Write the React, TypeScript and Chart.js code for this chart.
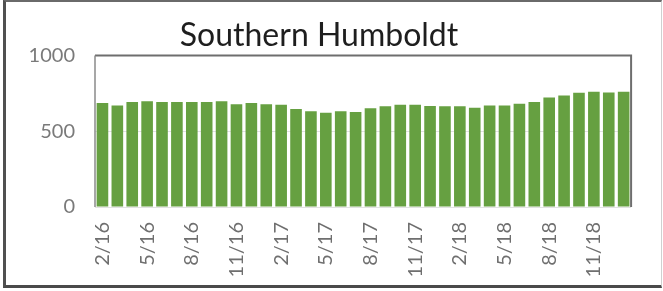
import React, { useEffect, useRef } from "react";
import { Chart, registerables } from "chart.js";

Chart.register(...registerables);

const months: string[] = [
  "2/16", "3/16", "4/16", "5/16", "6/16", "7/16", "8/16", "9/16", "10/16", "11/16", "12/16", "1/17",
  "2/17", "3/17", "4/17", "5/17", "6/17", "7/17", "8/17", "9/17", "10/17", "11/17", "12/17", "1/18",
  "2/18", "3/18", "4/18", "5/18", "6/18", "7/18", "8/18", "9/18", "10/18", "11/18", "12/18", "1/19",
];

const values: number[] = [
  686, 670, 692, 697, 692, 692, 692, 692, 697, 677, 686, 677,
  675, 646, 631, 622, 631, 626, 651, 664, 675, 675, 666, 664,
  664, 655, 670, 670, 681, 692, 723, 736, 754, 760, 756, 760,
];

const yTicks: number[] = [0, 500, 1000];
const labelEvery = 3;
const title = "Southern Humboldt";

const boxPlugin = {
  id: "plotBox",
  afterDraw(chart: any) {
    const { ctx, chartArea } = chart;
    ctx.save();
    ctx.strokeStyle = "#6e6e6e";
    ctx.lineWidth = 2;
    ctx.beginPath();
    ctx.moveTo(chartArea.left, chartArea.top);
    ctx.lineTo(chartArea.right, chartArea.top);
    ctx.lineTo(chartArea.right, chartArea.bottom);
    ctx.stroke();
    ctx.strokeStyle = "#8a8a8a";
    ctx.lineWidth = 1.5;
    ctx.beginPath();
    ctx.moveTo(chartArea.left, chartArea.top);
    ctx.lineTo(chartArea.left, chartArea.bottom);
    ctx.stroke();
    ctx.restore();
  },
};

export default function App() {
  const ref = useRef<HTMLCanvasElement | null>(null);
  useEffect(() => {
    document.body.style.margin = "0";
    const chart = new Chart(ref.current as HTMLCanvasElement, {
      type: "bar",
      data: {
        labels: months,
        datasets: [
          {
            data: values,
            backgroundColor: "#66a041",
            borderWidth: 0,
            barPercentage: 0.78,
            categoryPercentage: 1,
          },
        ],
      },
      options: {
        animation: false,
        responsive: false,
        maintainAspectRatio: false,
        layout: { padding: { left: 0, right: 25, top: 0, bottom: 0 } },
        plugins: {
          legend: { display: false },
          tooltip: { enabled: false },
          title: {
            display: true,
            text: title,
            color: "#1e1e1e",
            font: { family: "Lato", size: 32, weight: "normal", lineHeight: 1.2 },
            padding: { top: 16, bottom: 1 },
          },
        },
        scales: {
          x: {
            grid: { display: false, drawTicks: false },
            border: { display: false },
            ticks: {
              autoSkip: false,
              maxRotation: 90,
              minRotation: 90,
              padding: 15,
              color: "#6f6f6f",
              font: { family: "Lato", size: 20 },
              callback: (_v: any, i: number) => (i % labelEvery === 0 ? months[i] : ""),
            },
            afterFit: (s: any) => {
              s.height = 84;
            },
          },
          y: {
            min: 0,
            max: 1000,
            afterBuildTicks: (s: any) => {
              s.ticks = yTicks.map((v) => ({ value: v }));
            },
            grid: { color: "#e2e2e2", drawTicks: false, lineWidth: 1 },
            border: { display: false },
            ticks: {
              padding: 20,
              color: "#7a7a7a",
              font: { family: "Lato", size: 20 },
              callback: (v: any) => String(v),
            },
            afterFit: (s: any) => {
              s.width = 95;
            },
          },
        },
      },
      plugins: [boxPlugin],
    });
    return () => chart.destroy();
  }, []);
  return (
    <div style={{ position: "relative", width: 663, height: 291, background: "#fff" }}>
      <canvas ref={ref} width={663} height={291} style={{ display: "block" }} />
      <div
        style={{
          position: "absolute",
          left: 3,
          top: 0,
          width: 659,
          height: 288,
          boxSizing: "border-box",
          borderLeft: "3px solid #505050",
          borderTop: "2px solid #6a6a6a",
          borderBottom: "3px solid #4a4a4a",
          borderRight: "1px solid #d0d0d0",
          pointerEvents: "none",
        }}
      />
    </div>
  );
}
